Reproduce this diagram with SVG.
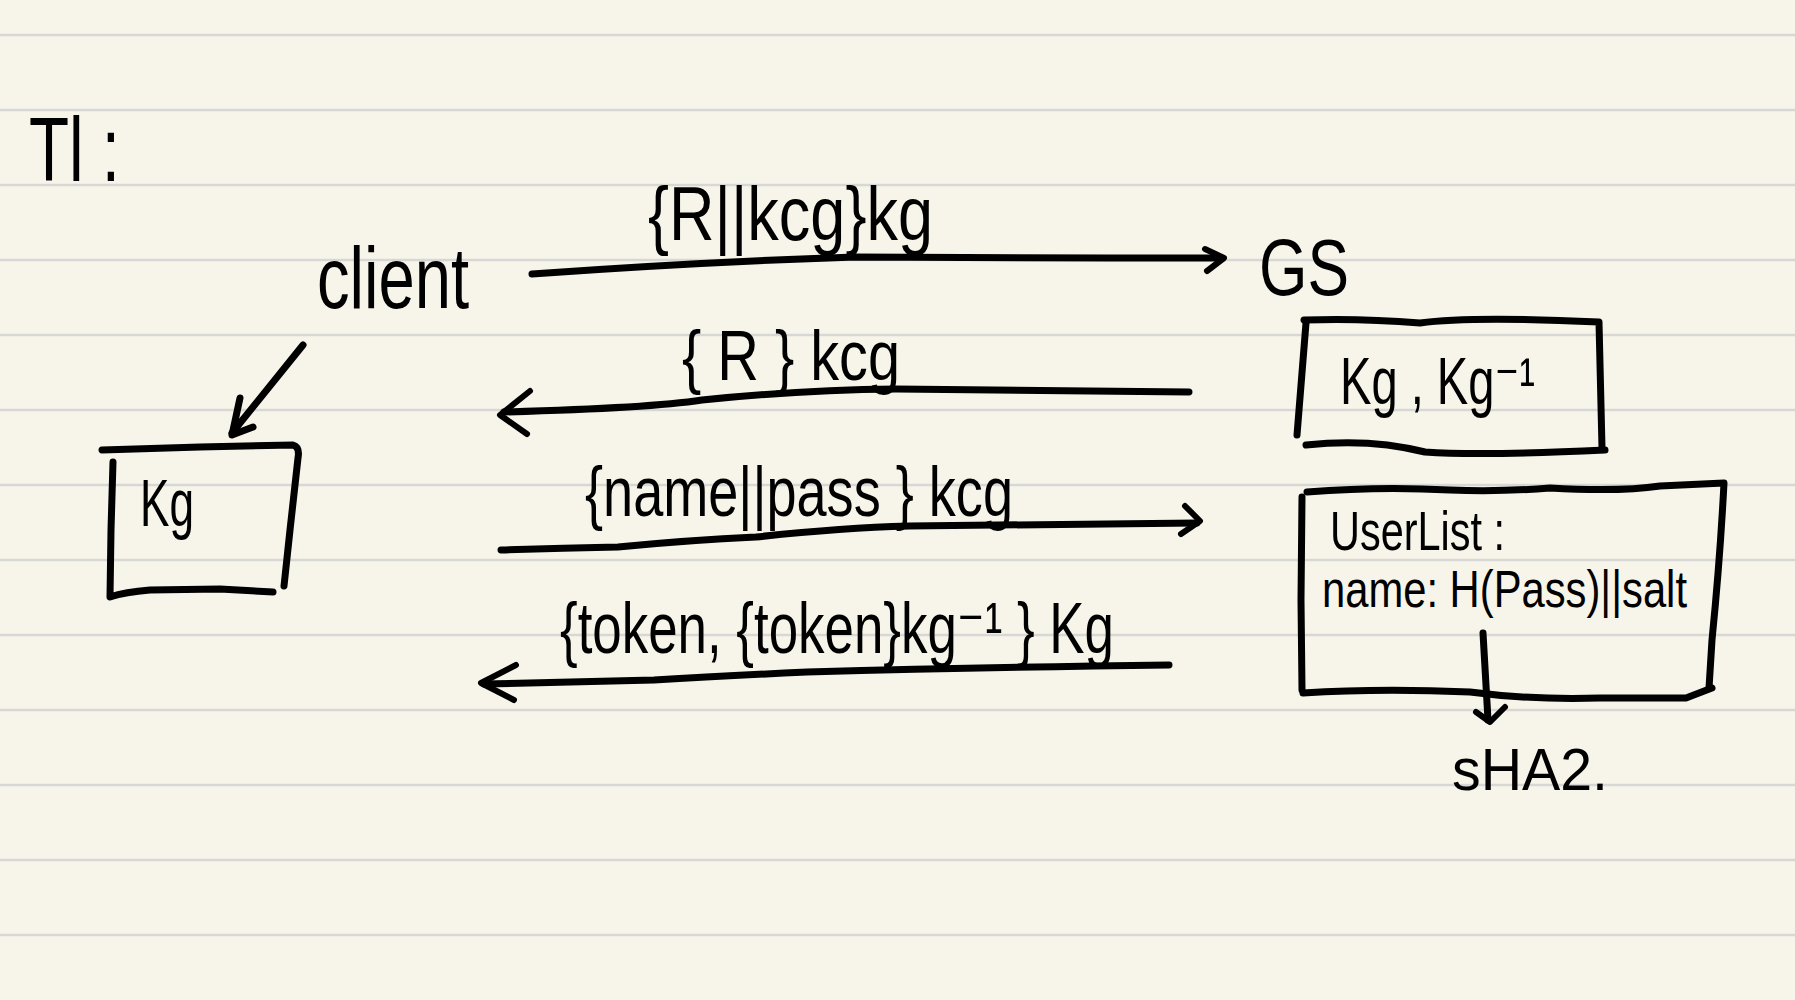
<svg xmlns="http://www.w3.org/2000/svg" width="1795" height="1000" viewBox="0 0 1795 1000">
<style>
.ruled{stroke:#d7d7d5;stroke-width:2.5}
.ink{fill:none;stroke:#000;stroke-width:7;stroke-linecap:round;stroke-linejoin:round}
.inkt{fill:none;stroke:#000;stroke-width:6;stroke-linecap:round;stroke-linejoin:round}
text{font-family:"Liberation Sans Narrow","Liberation Sans","DejaVu Sans",Arial,sans-serif;fill:#000}
</style>
<rect x="0" y="0" width="1795" height="1000" fill="#f7f5e9"/>
<g id="paper-lines">
<line class="ruled" x1="0" y1="35" x2="1795" y2="35"/>
<line class="ruled" x1="0" y1="110" x2="1795" y2="110"/>
<line class="ruled" x1="0" y1="185" x2="1795" y2="185"/>
<line class="ruled" x1="0" y1="260" x2="1795" y2="260"/>
<line class="ruled" x1="0" y1="335" x2="1795" y2="335"/>
<line class="ruled" x1="0" y1="410" x2="1795" y2="410"/>
<line class="ruled" x1="0" y1="485" x2="1795" y2="485"/>
<line class="ruled" x1="0" y1="560" x2="1795" y2="560"/>
<line class="ruled" x1="0" y1="635" x2="1795" y2="635"/>
<line class="ruled" x1="0" y1="710" x2="1795" y2="710"/>
<line class="ruled" x1="0" y1="785" x2="1795" y2="785"/>
<line class="ruled" x1="0" y1="860" x2="1795" y2="860"/>
<line class="ruled" x1="0" y1="935" x2="1795" y2="935"/>
</g>
<g id="node-title">
<text x="29" y="181" font-size="90" textLength="91" lengthAdjust="spacingAndGlyphs">Tl :</text>
</g>
<g id="node-client">
<text x="317" y="308" font-size="88" textLength="152" lengthAdjust="spacingAndGlyphs">client</text>
</g>
<g id="node-gs">
<text x="1259" y="295" font-size="80" textLength="90" lengthAdjust="spacingAndGlyphs">GS</text>
</g>
<g id="node-client-key">
<path class="ink" d="M102,450 L200,447 L293,445 Q300,447 298,458 L290,530 L284,586"/>
<path class="ink" d="M113,462 L111,530 L110,597 Q125,592 150,590 L220,589 L273,592"/>
<text x="140" y="526" font-size="66" textLength="54" lengthAdjust="spacingAndGlyphs">Kg</text>
</g>
<g id="node-gs-keys">
<path class="ink" d="M1304,320 Q1360,318 1420,323 Q1470,316 1599,322 L1602,448"/>
<path class="ink" d="M1306,323 L1297,435"/>
<path class="ink" d="M1306,445 Q1370,438 1425,452 Q1480,456 1605,450"/>
<text x="1340" y="404" font-size="66" textLength="195" lengthAdjust="spacingAndGlyphs">Kg , Kg⁻¹</text>
</g>
<g id="node-userlist">
<path class="ink" d="M1307,492 Q1380,486 1450,490 Q1500,492 1550,488 Q1620,492 1660,486 L1724,483 Q1720,560 1712,640 L1709,688"/>
<path class="ink" d="M1302,497 L1301,600 L1302,690"/>
<path class="ink" d="M1303,693 Q1380,688 1470,692 Q1530,700 1600,698 L1686,698 L1712,688"/>
<text x="1330" y="550" font-size="56" textLength="175" lengthAdjust="spacingAndGlyphs">UserList :</text>
<text x="1322" y="607" font-size="52" textLength="365" lengthAdjust="spacingAndGlyphs">name: H(Pass)||salt</text>
</g>
<g id="node-sha2">
<text x="1452" y="790" font-size="60" textLength="156" lengthAdjust="spacingAndGlyphs">sHA2.</text>
</g>
<g id="connectors">
<g id="edge-client-key">
<path class="ink" d="M303,345 L232,433"/>
<path class="ink" d="M240,398 L232,435 L253,427"/>
</g>
<g id="edge-1">
<path class="ink" d="M532,274 Q700,262 855,257 L1110,258 L1222,258"/>
<path class="inkt" d="M1205,249 L1224,258 L1207,271"/>
<text x="648" y="240" font-size="76" textLength="285" lengthAdjust="spacingAndGlyphs">{R||kcg}kg</text>
</g>
<g id="edge-2">
<path class="ink" d="M1189,392 L896,389 Q800,390 702,400 Q650,408 504,412"/>
<path class="inkt" d="M530,391 L500,415 L527,434"/>
<text x="682" y="380" font-size="70" textLength="218" lengthAdjust="spacingAndGlyphs">{ R } kcg</text>
</g>
<g id="edge-3">
<path class="ink" d="M501,550 Q560,548 618,547 Q690,540 756,537 Q840,528 909,526 L1197,523"/>
<path class="inkt" d="M1185,506 L1200,521 L1181,534"/>
<text x="585" y="516" font-size="70" textLength="428" lengthAdjust="spacingAndGlyphs">{name||pass  } kcg</text>
</g>
<g id="edge-4">
<path class="ink" d="M1169,665 Q1000,667 807,672 Q720,676 654,680 L484,684"/>
<path class="inkt" d="M516,665 L481,683 L514,700"/>
<text x="560" y="653" font-size="72" textLength="554" lengthAdjust="spacingAndGlyphs">{token, {token}kg⁻¹ } Kg</text>
</g>
<g id="edge-sha2">
<path class="ink" d="M1483,633 L1488,720"/>
<path class="inkt" d="M1476,712 L1490,722 L1505,707"/>
</g>
</g>
</svg>
